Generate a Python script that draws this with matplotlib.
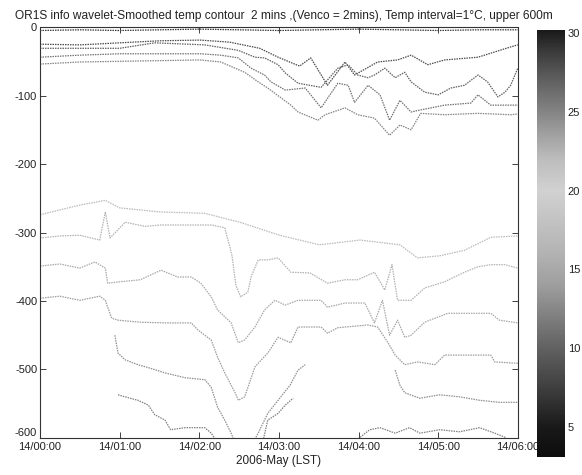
import numpy as np
import matplotlib.pyplot as plt
from matplotlib.colors import LinearSegmentedColormap, Normalize
from matplotlib.cm import ScalarMappable
from matplotlib.transforms import ScaledTranslation

plt.rcParams['font.family'] = ['Liberation Sans', 'DejaVu Sans']
plt.rcParams['axes.unicode_minus'] = False

# time in hours after 14/00:00, depth in m (negative down)
# temperature of each isotherm in degC
t_u0 = [0, 0.5, 1, 1.5, 2, 2.5, 3, 3.5, 4, 4.5, 5, 5.5, 6]
d_u0 = [-5, -4, -5, -4, -3, -4, -5, -4, -3, -4, -5, -4, -4]

t_u1 = [0, 0.5, 1.0, 1.51, 2.01, 2.38, 2.76, 2.99, 3.26, 3.40, 3.61, 3.83, 3.95, 4.24,
        4.49, 4.66, 4.87, 5.08, 5.50, 5.91, 6.0]
d_u1 = [-25, -26, -23, -20, -19, -22, -31, -44, -57, -45, -85, -51, -70, -51,
        -48, -41, -55, -48, -44, -29, -26]

t_u2 = [0, 0.5, 1.0, 1.44, 2.07, 2.49, 2.70, 2.82, 2.99, 3.08, 3.24, 3.53, 3.74, 3.87,
        3.99, 4.12, 4.20, 4.33, 4.46, 4.58, 4.66, 4.83, 5.0, 5.16, 5.33, 5.50, 5.62,
        5.75, 5.84, 5.91, 6.0]
d_u2 = [-31, -31, -31, -23, -26, -34, -44, -45, -55, -67, -82, -88, -60, -55,
        -70, -74, -70, -60, -74, -66, -80, -95, -99, -89, -85, -70, -80,
        -102, -95, -85, -60]

t_u3 = [0, 0.5, 1.0, 2.01, 2.27, 2.49, 2.65, 2.82, 2.90, 3.08, 3.33, 3.40, 3.53, 3.74,
        3.87, 3.95, 4.12, 4.27, 4.39, 4.52, 4.66, 4.78, 5.08, 5.41, 5.50, 5.66, 5.91, 6.0]
d_u3 = [-44, -41, -39, -39, -41, -45, -60, -70, -80, -92, -89, -99, -118, -82,
        -85, -110, -85, -99, -136, -107, -124, -121, -114, -111, -99, -114, -114, -114]

t_u4 = [0, 0.5, 1.0, 2.01, 2.27, 2.57, 2.74, 2.86, 3.15, 3.24, 3.49, 3.58, 3.83, 3.99,
        4.20, 4.39, 4.52, 4.66, 4.78, 5.08, 5.50, 5.91, 6.0]
d_u4 = [-54, -51, -50, -48, -51, -66, -80, -89, -114, -124, -136, -128, -118, -128,
        -133, -158, -143, -150, -126, -128, -126, -128, -127]

t_l0 = [0, 0.5, 0.82, 1.0, 1.51, 2.07, 2.51, 3.01, 3.51, 4.02, 4.52, 4.74, 5.02, 5.33, 5.66, 6.0]
d_l0 = [-274, -260, -253, -264, -270, -272, -285, -304, -318, -311, -318, -337, -334, -326, -307, -305]

t_l1 = [0, 0.25, 0.50, 0.75, 0.82, 0.88, 1.07, 1.32, 1.52, 2.15, 2.32, 2.41, 2.46, 2.52,
        2.61, 2.65, 2.74, 2.86, 2.99, 3.15, 3.39, 3.61, 3.83, 3.99, 4.20, 4.33, 4.42,
        4.49, 4.66, 4.83, 5.08, 5.33, 5.50, 5.66, 5.84, 6.0]
d_l1 = [-308, -305, -304, -311, -270, -308, -285, -291, -289, -289, -293, -333, -377, -394,
        -387, -365, -340, -340, -337, -358, -359, -374, -369, -369, -358, -384, -347,
        -399, -399, -381, -372, -358, -350, -347, -347, -352]

t_l2 = [0, 0.25, 0.50, 0.69, 0.82, 0.85, 1.0, 1.26, 1.52, 1.73, 1.90, 2.02, 2.15, 2.23,
        2.40, 2.49, 2.57, 2.70, 2.82, 2.95, 3.08, 3.24, 3.53, 3.61, 3.83, 4.08, 4.20,
        4.30, 4.39, 4.49, 4.58, 4.66, 4.83, 5.12, 5.66, 5.77, 6.0]
d_l2 = [-349, -346, -352, -343, -352, -374, -372, -369, -355, -365, -365, -374, -394, -413,
        -432, -461, -457, -438, -413, -399, -406, -399, -399, -409, -403, -403, -432,
        -399, -450, -428, -453, -450, -431, -418, -418, -428, -432]

t_l3 = [0, 0.25, 0.50, 0.75, 0.82, 0.90, 0.98, 1.26, 1.57, 1.90, 1.98, 2.15, 2.23, 2.32,
        2.45, 2.49, 2.57, 2.70, 2.86, 2.99, 3.15, 3.24, 3.53, 3.61, 3.74, 4.12, 4.24,
        4.37, 4.46, 4.58, 4.74, 4.96, 5.08, 5.66, 5.71, 6.0]
d_l3 = [-396, -393, -399, -393, -399, -425, -428, -431, -432, -432, -442, -457, -482, -505,
        -534, -545, -540, -496, -476, -453, -461, -438, -438, -447, -439, -435, -438,
        -461, -479, -493, -489, -493, -479, -479, -489, -491]

t_l4 = [0.94, 0.98, 1.07, 1.23, 1.38, 1.57, 1.82, 2.07, 2.15, 2.23, 2.32, 2.40, 2.46, 2.66,
        2.74, 2.86, 2.99, 3.14, 3.24, 3.33, 3.8, 4.46, 4.52, 4.58, 4.77, 5.02, 5.27,
        5.52, 5.77, 6.0]
d_l4 = [-450, -476, -486, -493, -498, -505, -512, -515, -526, -555, -574, -593, -610, -610,
        -593, -564, -545, -523, -501, -493, np.nan, -501, -523, -534, -542, -537, -540,
        -545, -548, -548]

t_l5 = [0.98, 1.13, 1.23, 1.36, 1.44, 1.57, 1.64, 1.82, 2.07, 2.15, 2.25, 2.79, 2.86, 2.99,
        3.08, 3.18, 3.6, 4.02, 4.14, 4.27, 4.46, 4.64, 4.77, 5.02, 5.27, 5.52, 5.71,
        5.84, 5.92]
d_l5 = [-537, -542, -545, -552, -566, -574, -588, -585, -585, -593, -610, -610, -574, -564,
        -552, -542, np.nan, -599, -588, -585, -593, -585, -593, -588, -591, -585, -593,
        -599, -610]

isotherms = [
    (29, t_u0, d_u0), (28, t_u1, d_u1), (27, t_u2, d_u2), (26, t_u3, d_u3), (25, t_u4, d_u4),
    (17, t_l0, d_l0), (16, t_l1, d_l1), (15, t_l2, d_l2), (14, t_l3, d_l3),
    (13, t_l4, d_l4), (12, t_l5, d_l5),
]

xtick_labels = ['14/00:00', '14/01:00', '14/02:00', '14/03:00', '14/04:00', '14/05:00', '14/06:00']
yticks = [0, -100, -200, -300, -400, -500, -600]

# grey version of the colour scale, as printed
cb_temp = [3, 5, 7, 10, 12, 14, 16, 18, 20, 22, 24, 25, 27, 29, 30.2]
cb_grey = [0.05, 0.10, 0.22, 0.38, 0.50, 0.62, 0.70, 0.76, 0.82, 0.74, 0.60, 0.52, 0.38, 0.22, 0.10]
tmin, tmax = 3.1, 30.2
nodes = [((v - tmin) / (tmax - tmin), (g, g, g)) for v, g in zip(cb_temp, cb_grey)]
nodes[0] = (0.0, nodes[0][1])
nodes[-1] = (1.0, nodes[-1][1])
cmap = LinearSegmentedColormap.from_list('greyjet', nodes)
norm = Normalize(tmin, tmax)

fig = plt.figure(figsize=(5.82, 4.75), dpi=100)
ax = fig.add_axes([0.0687, 0.078, 0.821, 0.865])

for temp, t, d in isotherms:
    ax.plot(t, d, color=cmap(norm(temp)), lw=0.9, ls=(0, (1.2, 0.8)))

ax.set_xlim(0, 6)
ax.set_ylim(-600, 0)
ax.set_xticks(range(7))
ax.set_xticklabels(xtick_labels)
ax.set_yticks(yticks)
ax.tick_params(direction='in', top=True, right=True, length=4, width=0.6,
               labelsize=8, colors='#222', pad=2)
ax.tick_params(axis='x', pad=3)
# bottom y label sits a little higher, as in the print
lab = ax.get_yticklabels()[-1]
lab.set_transform(lab.get_transform() + ScaledTranslation(0, 4 / 72, fig.dpi_scale_trans))
for sp in ax.spines.values():
    sp.set_linestyle((0, (1, 1)))
    sp.set_color('#333')
    sp.set_linewidth(0.8)

ax.set_title('OR1S info wavelet-Smoothed temp contour  2 mins ,(Venco = 2mins), '
             'Temp interval=1°C, upper 600m', fontsize=8.6, color='#222', pad=6, x=0.51)
ax.set_xlabel('2006-May (LST)', fontsize=8.5, color='#222', labelpad=2)

cax = fig.add_axes([0.923, 0.038, 0.048, 0.899])
sm = ScalarMappable(norm=norm, cmap=cmap)
cb = fig.colorbar(sm, cax=cax, ticks=[5, 10, 15, 20, 25, 30])
cb.outline.set_visible(False)
cax.tick_params(labelsize=8, length=0, pad=2, colors='#222')

fig.savefig('out.png', dpi=100)
